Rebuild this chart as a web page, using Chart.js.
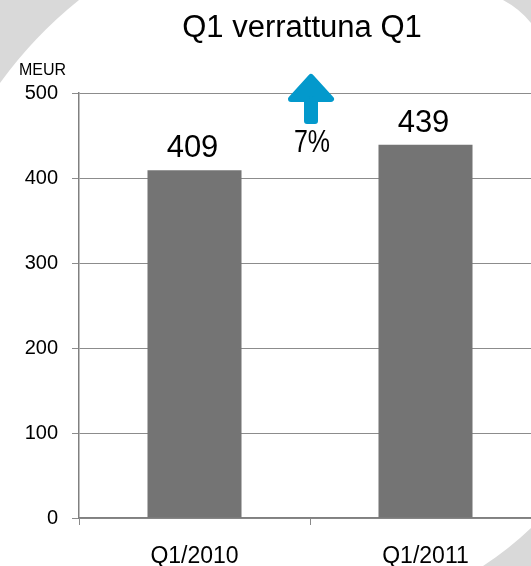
<!DOCTYPE html>
<html>
<head>
<meta charset="utf-8">
<script src="https://cdn.jsdelivr.net/npm/chart.js@4.4.1/dist/chart.umd.min.js"></script>
<style>
  html, body { margin: 0; padding: 0; background: #fff; overflow: hidden; }
  #wrap { width: 531px; height: 566px; overflow: hidden; position: relative; }
  canvas { display: block; }
</style>
</head>
<body>
<div id="wrap"><canvas id="c" width="541" height="566"></canvas></div>
<script>
// ---- data ----
const categories = ['Q1/2010', 'Q1/2011'];
const revenue = [409, 439];
const yTicks = [0, 100, 200, 300, 400, 500];
const titleText = 'Q1 verrattuna Q1';
const unitText = 'MEUR';
const changeText = Math.round((revenue[1] - revenue[0]) / revenue[0] * 100) + '%';

const FONT = '"Liberation Sans", Arial, Helvetica, sans-serif';

const decorPlugin = {
  id: 'decor',
  beforeDraw(chart) {
    const ctx = chart.ctx;
    ctx.save();
    ctx.fillStyle = '#ffffff';
    ctx.fillRect(0, 0, chart.width, chart.height);
    ctx.fillStyle = '#d9d9d9';
    // top-left wedge
    ctx.beginPath();
    ctx.moveTo(0, 0);
    ctx.lineTo(79, 0);
    ctx.quadraticCurveTo(34, 36, 0, 83);
    ctx.closePath();
    ctx.fill();
    // top-right wedge
    ctx.beginPath();
    ctx.moveTo(503, 0);
    ctx.quadraticCurveTo(520, 9, 531, 23);
    ctx.lineTo(545, 42);
    ctx.lineTo(545, 0);
    ctx.closePath();
    ctx.fill();
    // bottom-right wedge
    ctx.beginPath();
    ctx.moveTo(483, 566);
    ctx.quadraticCurveTo(509, 549, 531, 528);
    ctx.lineTo(545, 514);
    ctx.lineTo(545, 566);
    ctx.closePath();
    ctx.fill();
    ctx.restore();
  },
  afterDatasetsDraw(chart) {
    const ctx = chart.ctx;
    ctx.save();
    ctx.fillStyle = '#000';
    // title centred over the plot area
    ctx.font = '31px ' + FONT;
    ctx.textAlign = 'center';
    ctx.textBaseline = 'alphabetic';
    ctx.fillText(titleText, 302, 37);
    // unit label
    ctx.font = '16px ' + FONT;
    ctx.textAlign = 'left';
    ctx.fillText(unitText, 19, 75);
    // value labels
    const meta = chart.getDatasetMeta(0);
    ctx.font = '31px ' + FONT;
    ctx.textAlign = 'center';
    meta.data.forEach((bar, i) => {
      ctx.fillText(String(revenue[i]), bar.x - 2, bar.y - 13);
    });
    // growth arrow between the bars
    const midX = (meta.data[0].x + meta.data[1].x) / 2 + 1;
    ctx.fillStyle = '#0399cc';
    ctx.strokeStyle = '#0399cc';
    ctx.lineWidth = 6;
    ctx.lineJoin = 'round';
    ctx.beginPath();
    ctx.moveTo(midX, 77);
    ctx.lineTo(midX + 20, 99);
    ctx.lineTo(midX + 4, 99);
    ctx.lineTo(midX + 4, 121);
    ctx.lineTo(midX - 4, 121);
    ctx.lineTo(midX - 4, 99);
    ctx.lineTo(midX - 20, 99);
    ctx.closePath();
    ctx.fill();
    ctx.stroke();
    // change label (narrow, tall lettering)
    ctx.fillStyle = '#000';
    ctx.font = '32px ' + FONT;
    ctx.textAlign = 'center';
    ctx.translate(midX + 1, 152);
    ctx.scale(0.78, 1);
    ctx.fillText(changeText, 0, 0);
    ctx.restore();
  }
};

new Chart(document.getElementById('c'), {
  type: 'bar',
  data: {
    labels: categories,
    datasets: [{
      data: revenue,
      backgroundColor: '#747474',
      borderWidth: 0,
      barPercentage: 0.407,
      categoryPercentage: 1.0
    }]
  },
  options: {
    responsive: false,
    animation: false,
    devicePixelRatio: 1,
    layout: { padding: { top: 93, left: 0, right: 0, bottom: 0 } },
    plugins: {
      legend: { display: false },
      tooltip: { enabled: false },
      title: { display: false }
    },
    scales: {
      x: {
        offset: true,
        grid: {
          offset: true,
          drawOnChartArea: false,
          drawTicks: true,
          tickLength: 7,
          color: '#8a8a8a',
          lineWidth: 1
        },
        border: { display: true, color: '#808080', width: 1.5 },
        ticks: {
          color: '#000',
          font: { family: FONT, size: 23 },
          padding: 18,
          maxRotation: 0
        },
        afterFit(scale) { scale.height = 48; }
      },
      y: {
        min: 0,
        max: 500,
        afterBuildTicks(scale) { scale.ticks = yTicks.map(v => ({ value: v })); },
        grid: {
          drawTicks: true,
          tickLength: 7,
          color: '#8c8c8c',
          lineWidth: 1
        },
        border: { display: true, color: '#808080', width: 1.5 },
        ticks: {
          color: '#000',
          font: { family: FONT, size: 20 },
          padding: 14
        },
        afterFit(scale) { scale.width = 79; }
      }
    }
  },
  plugins: [decorPlugin]
});
</script>
</body>
</html>
